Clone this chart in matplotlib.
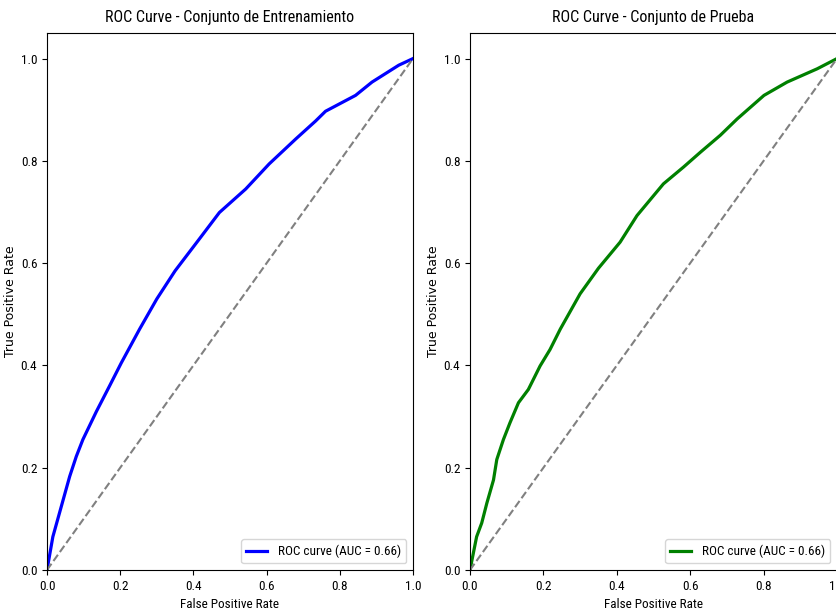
import matplotlib
matplotlib.use("Agg")
import matplotlib.pyplot as plt
from matplotlib import font_manager

# ROC points (fpr, tpr)
train_fpr = [0.0, 0.016, 0.039, 0.062, 0.080, 0.098, 0.135, 0.171, 0.203, 0.253, 0.30, 0.35,
             0.416, 0.471, 0.543, 0.607, 0.680, 0.734, 0.761, 0.843, 0.888, 0.961, 1.0]
train_tpr = [0.0, 0.065, 0.124, 0.183, 0.222, 0.255, 0.310, 0.360, 0.405, 0.471, 0.530, 0.585,
             0.647, 0.699, 0.745, 0.794, 0.843, 0.878, 0.897, 0.928, 0.954, 0.987, 1.0]

test_fpr = [0.0, 0.018, 0.032, 0.046, 0.064, 0.073, 0.091, 0.109, 0.132, 0.159, 0.191, 0.218,
            0.246, 0.30, 0.35, 0.409, 0.455, 0.527, 0.582, 0.628, 0.682, 0.728, 0.801, 0.864,
            0.946, 1.0]
test_tpr = [0.0, 0.065, 0.092, 0.131, 0.176, 0.216, 0.255, 0.288, 0.327, 0.353, 0.399, 0.431,
            0.471, 0.540, 0.590, 0.641, 0.693, 0.755, 0.788, 0.817, 0.850, 0.882, 0.928, 0.954,
            0.980, 1.0]

auc_train = 0.66
auc_test = 0.66

# the screenshot is squeezed sideways, so look for a narrow face
names = {f.name for f in font_manager.fontManager.ttflist}
stretch = 'normal'
if 'Roboto Condensed' in names:
    fam = 'Roboto Condensed'
    sz = dict(title=11.5, tick=9.5, label=9.5, legend=9.5)
elif 'Liberation Sans Narrow' in names:
    fam = 'Liberation Sans Narrow'
    sz = dict(title=11.5, tick=9.5, label=9.5, legend=9.5)
elif any(f.name == 'DejaVu Sans' and 'ondensed' in str(f.stretch) for f in font_manager.fontManager.ttflist):
    fam = 'DejaVu Sans'
    stretch = 'condensed'
    sz = dict(title=11, tick=9.5, label=9.5, legend=9.5)
else:
    fam = 'Roboto'
    sz = dict(title=10.5, tick=9, label=9, legend=9)

plt.rcParams['font.family'] = [fam, 'DejaVu Sans']
plt.rcParams['font.stretch'] = stretch

fig = plt.figure(figsize=(8.36, 6.16), dpi=100)
W, H = 836, 616
ax1 = fig.add_axes([47 / W, 46 / H, 366 / W, 537 / H])
ax2 = fig.add_axes([470 / W, 46 / H, 367 / W, 537 / H])

panels = [
    (ax1, train_fpr, train_tpr, 'blue', auc_train, 'ROC Curve - Conjunto de Entrenamiento'),
    (ax2, test_fpr, test_tpr, 'green', auc_test, 'ROC Curve - Conjunto de Prueba'),
]

for ax, fpr, tpr, col, auc, title in panels:
    ax.plot(fpr, tpr, color=col, lw=2.3, label='ROC curve (AUC = {:.2f})'.format(auc))
    ax.plot([0, 1], [0, 1], color='gray', lw=1.5, linestyle='--')
    ax.set_xlim(0.0, 1.0)
    ax.set_ylim(0.0, 1.05)
    ax.set_title(title, fontsize=sz['title'], pad=8)
    ax.set_xlabel('False Positive Rate', fontsize=sz['label'])
    ax.set_ylabel('True Positive Rate', fontsize=9, family='DejaVu Sans', stretch='normal')
    ax.yaxis.set_label_coords(-0.082, 0.5)
    ax.tick_params(labelsize=sz['tick'])
    ax.legend(loc='lower right', fontsize=sz['legend'], handlelength=1.6)

fig.savefig('out.png', dpi=100)
